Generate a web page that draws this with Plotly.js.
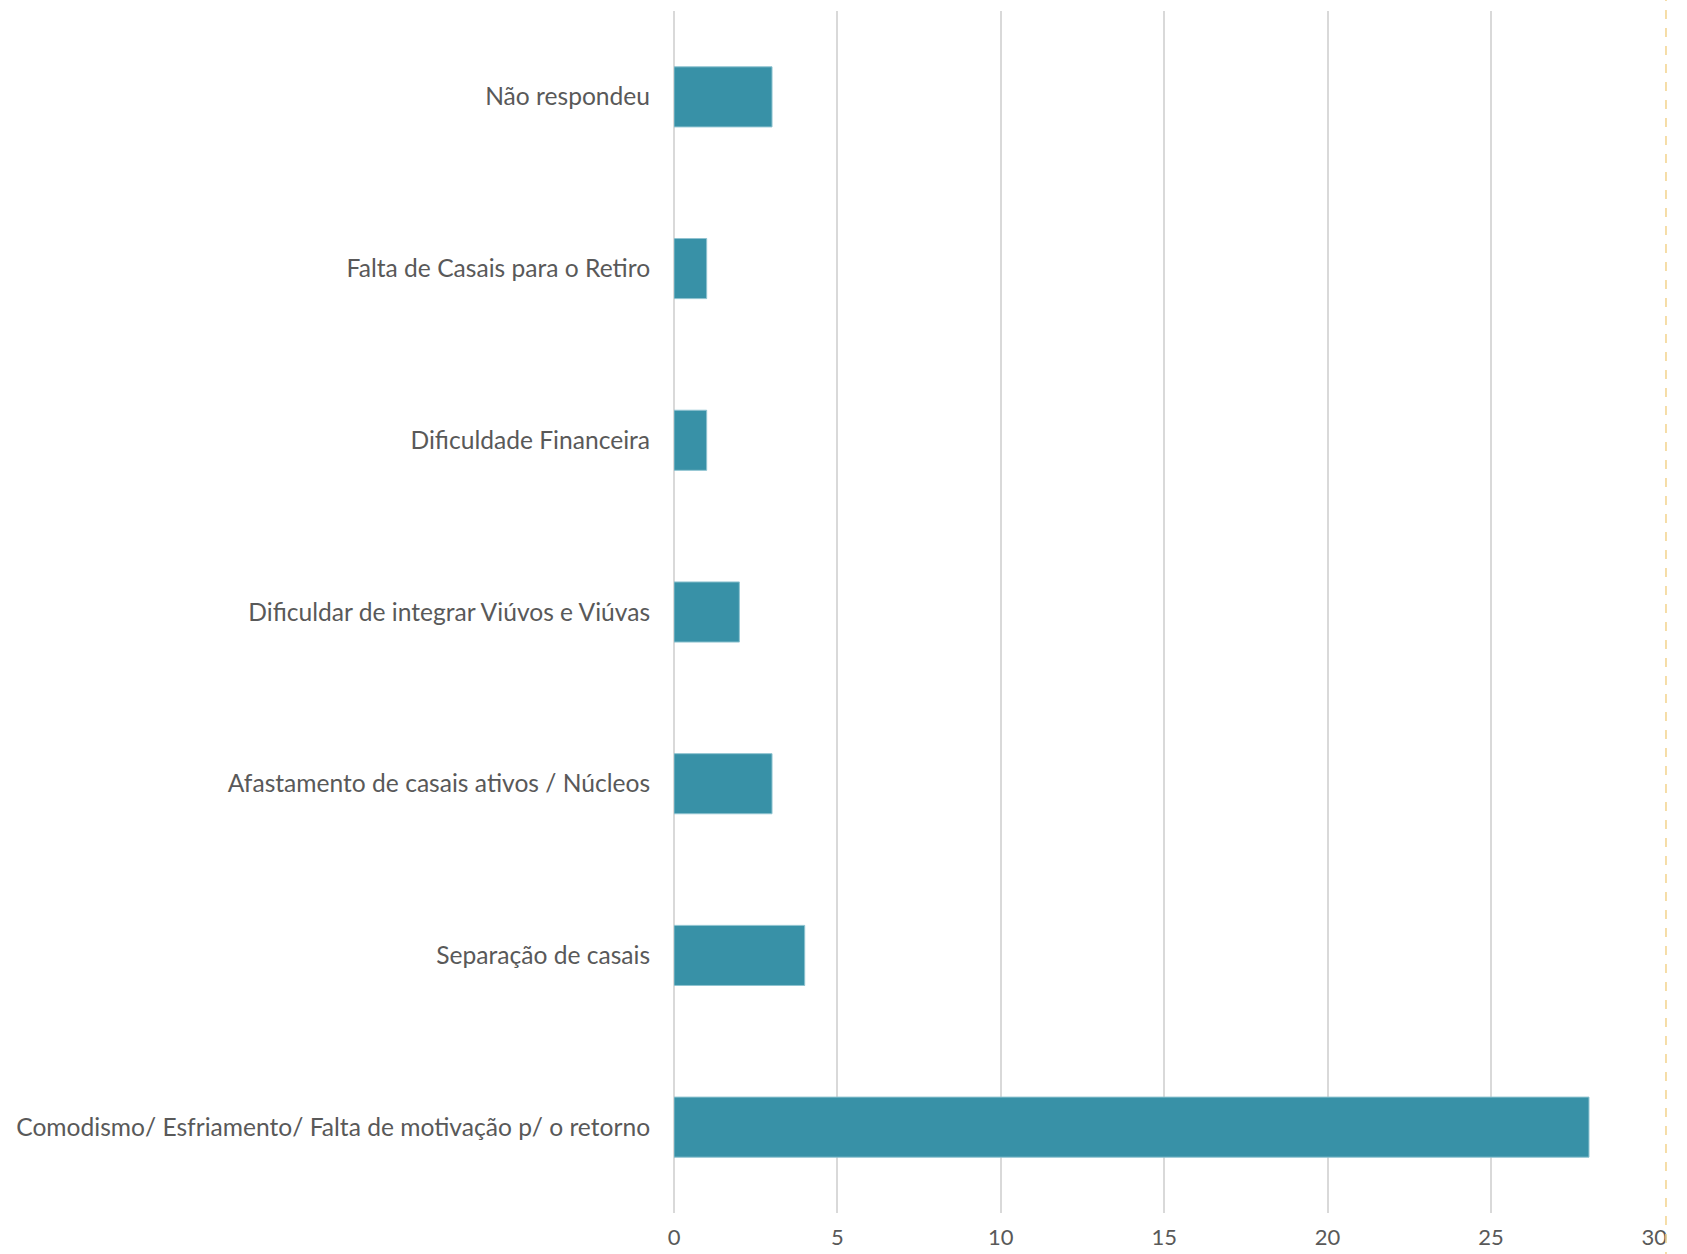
<!DOCTYPE html>
<html>
<head>
<meta charset="utf-8">
<script src="https://cdn.plot.ly/plotly-3.0.1.min.js"></script>
<style>html,body{margin:0;padding:0;background:#fff;}#chart{width:1687px;height:1254px;}</style>
</head>
<body>
<div id="chart"></div>
<script>
const categories = [
  "Comodismo/ Esfriamento/ Falta de motivação p/ o retorno",
  "Separação de casais",
  "Afastamento de casais ativos / Núcleos",
  "Dificuldar de integrar Viúvos e Viúvas",
  "Dificuldade Financeira",
  "Falta de Casais para o Retiro",
  "Não respondeu"
];
const values = [28, 4, 3, 2, 1, 1, 3];
const xTicks = [0, 5, 10, 15, 20, 25, 30];

const trace = {
  type: 'bar',
  orientation: 'h',
  y: categories,
  x: values,
  marker: {color: '#3891a7', line: {color: '#8fc3d0', width: 1}},
  hoverinfo: 'x+y'
};

const layout = {
  width: 1687,
  height: 1254,
  margin: {l: 674, r: 32, t: 11, b: 41},
  paper_bgcolor: '#ffffff',
  plot_bgcolor: '#ffffff',
  showlegend: false,
  bargap: 0.65,
  font: {family: 'Lato, "Open Sans", sans-serif', color: '#595959'},
  xaxis: {
    range: [0, 30.02],
    tickvals: xTicks,
    ticktext: xTicks.map(String),
    showgrid: true,
    gridcolor: '#d9d9d9',
    gridwidth: 2,
    zeroline: true,
    zerolinecolor: '#d9d9d9',
    zerolinewidth: 2,
    showline: false,
    ticks: '',
    ticklabelstandoff: 9,
    tickfont: {size: 22, color: '#595959'},
    automargin: false,
    fixedrange: true
  },
  yaxis: {
    type: 'category',
    categoryorder: 'array',
    categoryarray: categories,
    showgrid: false,
    zeroline: false,
    showline: false,
    ticks: 'outside',
    ticklen: 18,
    tickcolor: 'rgba(0,0,0,0)',
    tickfont: {size: 24.6, color: '#595959'},
    automargin: false,
    fixedrange: true
  },
  shapes: [{
    type: 'line',
    xref: 'paper', yref: 'paper',
    x0: 1.0112, x1: 1.0112, y0: -0.04, y1: 1.01,
    line: {color: '#f3d38c', width: 1.5, dash: 'dash'}
  }]
};

Plotly.newPlot('chart', [trace], layout, {displayModeBar: false, staticPlot: true});
</script>
</body>
</html>
